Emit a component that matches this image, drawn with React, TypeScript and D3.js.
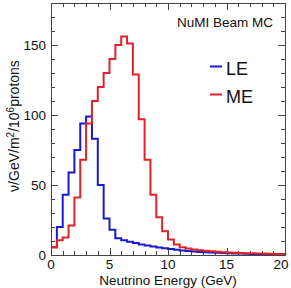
import * as d3 from "d3";

// bin edges: 0..20 GeV, 0.5 GeV wide
const binWidth = 0.5;
const leFlux = [
  5.5, 20, 43, 59, 75, 94, 99, 83, 50, 26,
  18, 12, 10.5, 9.5, 8.5, 7.5, 6.7, 6.0, 5.3, 4.8,
  4.3, 3.8, 3.3, 2.9, 2.5, 2.2, 2.0, 1.8, 1.6, 1.4,
  1.2, 1.1, 1.0, 0.9, 0.8, 0.7, 0.6, 0.5, 0.5, 0.4,
];
const meFlux = [
  5.5, 10.5, 12.5, 21, 41, 68, 94, 110, 120, 130,
  140, 150, 156, 151, 129, 97, 68, 43, 27, 17,
  11, 7.5, 5.5, 4.6, 4.0, 3.4, 3.0, 2.6, 2.3, 2.0,
  1.8, 1.6, 1.4, 1.3, 1.2, 1.1, 1.0, 0.9, 0.8, 0.7,
];
const xMajor = [0, 5, 10, 15, 20];
const yMajor = [0, 50, 100, 150];
const legendItems = [
  { label: "LE", color: "#1a1acb" },
  { label: "ME", color: "#e0222a" },
];

const width = 291;
const height = 288;
const margin = { top: 3, right: 6, bottom: 33, left: 51 };

export default function App() {
  const x = d3
    .scaleLinear()
    .domain([0, 20])
    .range([margin.left, width - margin.right]);
  const y = d3
    .scaleLinear()
    .domain([0, 180])
    .range([height - margin.bottom, margin.top]);

  const step = d3
    .line<[number, number]>()
    .x((d) => x(d[0]))
    .y((d) => y(d[1]))
    .curve(d3.curveStepAfter);

  const toPts = (vals: number[]): [number, number][] => {
    const pts: [number, number][] = vals.map((v, i) => [i * binWidth, v]);
    pts.push([vals.length * binWidth, vals[vals.length - 1]]);
    return pts;
  };

  const x0 = margin.left;
  const x1 = width - margin.right;
  const y0 = height - margin.bottom;
  const y1 = margin.top;

  const xMinor = d3.range(0, 21, 1);
  const yMinor = d3.range(0, 181, 10);
  const axisColor = "#444";
  const font = "Liberation Sans, Arial, sans-serif";

  return (
    <svg
      width={width}
      height={height}
      style={{ position: "absolute", left: 0, top: 0, background: "#fff" }}
      fontFamily={font}
    >
      {/* ticks, ROOT style: inside on all four sides */}
      <g stroke={axisColor} strokeWidth={1}>
        {xMinor.map((t) => {
          const len = xMajor.includes(t) ? 7 : 4;
          const px = Math.round(x(t)) + 0.5;
          return (
            <g key={"x" + t}>
              <line x1={px} x2={px} y1={y0} y2={y0 - len} />
              <line x1={px} x2={px} y1={y1} y2={y1 + len} />
            </g>
          );
        })}
        {yMinor.map((t) => {
          const len = yMajor.includes(t) ? 7 : 4;
          const py = Math.round(y(t)) + 0.5;
          return (
            <g key={"y" + t}>
              <line x1={x0} x2={x0 + len} y1={py} y2={py} />
              <line x1={x1} x2={x1 - len} y1={py} y2={py} />
            </g>
          );
        })}
      </g>

      {/* histograms */}
      <path d={step(toPts(leFlux)) ?? ""} fill="none" stroke={legendItems[0].color} strokeWidth={2} />
      <path d={step(toPts(meFlux)) ?? ""} fill="none" stroke={legendItems[1].color} strokeWidth={2} />

      {/* frame */}
      <rect
        x={x0 + 0.5}
        y={y1 + 0.5}
        width={x1 - x0}
        height={y0 - y1}
        fill="none"
        stroke={axisColor}
        strokeWidth={1}
      />

      {/* tick labels */}
      <g fontSize={13.5} fill="#111">
        {xMajor.map((t) => (
          <text key={t} x={t === 20 ? x(t) - 4 : x(t)} y={268.5} textAnchor="middle">
            {t}
          </text>
        ))}
        {yMajor.map((t) => (
          <text key={t} x={46} y={y(t) + 5} textAnchor="end">
            {t}
          </text>
        ))}
      </g>

      {/* axis titles */}
      <text x={168} y={285} fontSize={13.5} textAnchor="middle" fill="#111">
        Neutrino Energy (GeV)
      </text>
      <text
        transform={`translate(19,126) rotate(-90)`}
        fontSize={14}
        textAnchor="middle"
        fill="#111"
      >
        ν/GeV/m<tspan dy={-5} fontSize={10}>2</tspan>
        <tspan dy={5}>/10</tspan>
        <tspan dy={-5} fontSize={10}>6</tspan>
        <tspan dy={5}>protons</tspan>
      </text>

      {/* label */}
      <text x={273} y={27} fontSize={13.5} textAnchor="end" fill="#111">
        NuMI Beam MC
      </text>

      {/* legend */}
      {legendItems.map((item, i) => {
        const ly = 66.5 + i * 28;
        return (
          <g key={item.label}>
            <line x1={210} x2={222} y1={ly} y2={ly} stroke={item.color} strokeWidth={2} />
            <text x={226} y={ly + 8.5} fontSize={18} fill="#111">
              {item.label}
            </text>
          </g>
        );
      })}
    </svg>
  );
}
